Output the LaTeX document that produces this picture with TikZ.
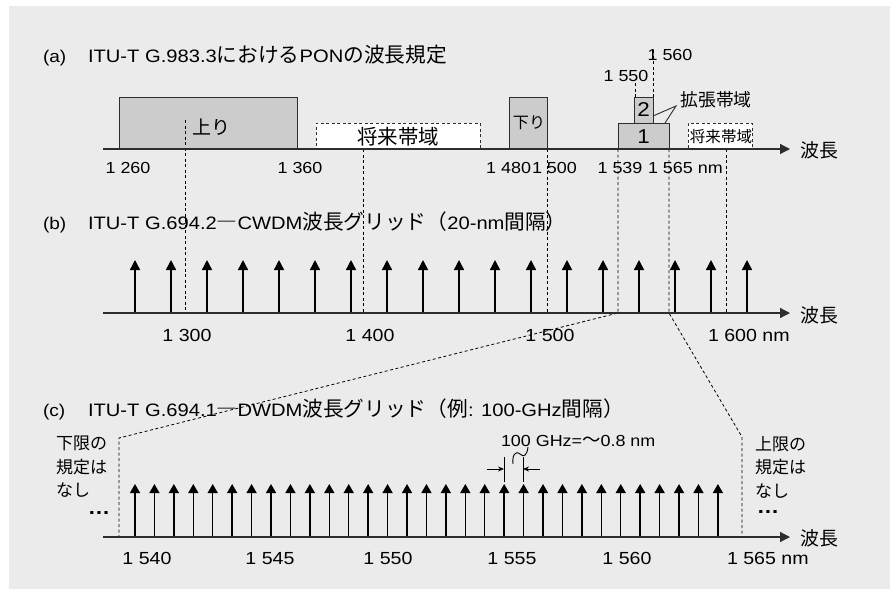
\documentclass[tikz,border=0pt]{standalone}
\usepackage{fontspec}
\setmainfont{Liberation Sans}[FakeStretch=1.12]
\newfontfamily\jp{Noto Sans CJK JP}[Scale=1.15]
\usetikzlibrary{arrows.meta}
\definecolor{bgc}{RGB}{235,235,235}
\definecolor{boxc}{RGB}{204,204,204}
\definecolor{linec}{RGB}{45,45,45}
\begin{document}
\begin{tikzpicture}[x=1pt,y=-1pt,
  every node/.style={inner sep=0pt, outer sep=0pt, text=black, font=\fontsize{16}{20}\selectfont},
  axisline/.style={draw=linec, line width=1.3pt, -{Triangle[length=10pt,width=10pt]}},
  gridarrow/.style={draw=black, line width=1.4pt, -{Triangle[length=10pt,width=10pt]}},
  smallarrow/.style={draw=black, line width=1.4pt, -{Triangle[length=9pt,width=10pt]}},
  band/.style={draw=linec, line width=1pt, fill=boxc},
  future/.style={draw=linec, line width=0.9pt, dash pattern=on 3pt off 2.5pt, fill=white},
  guide/.style={draw=black, line width=0.8pt, dash pattern=on 3pt off 2.5pt},
  numlab/.style={anchor=base, font=\fontsize{16}{20}\selectfont},
  biglab/.style={anchor=base, font=\fontsize{17.5}{20}\selectfont},
  titlelab/.style={anchor=base west, font=\fontsize{18}{20}\selectfont},
  jplab/.style={font=\fontsize{16.5}{20}\selectfont\jp},
  dimarrow/.style={draw=black, line width=0.9pt, -{Stealth[length=6pt,width=5pt]}},
]
\useasboundingbox (0,0) rectangle (890,589);
\fill[bgc] (9,6) rectangle (890,589);

% ---------- (a) ----------
\node[titlelab, font=\fontsize{17}{20}\selectfont] (la) at (43,62) {(a)};
\node[titlelab] (ta) at (88,62) {ITU-T G.983.3{\jp における}PON{\jp の波長規定}};

% guide lines from (a) down to (b)
\coordinate (ga1) at (185,120);  \coordinate (gb1) at (185,313);
\coordinate (ga2) at (363,149);  \coordinate (gb2) at (363,313);
\coordinate (ga3) at (547,149);  \coordinate (gb3) at (547,313);
\coordinate (ga4) at (618,149);  \coordinate (gb4) at (618,313);
\coordinate (ga5) at (669,149);  \coordinate (gb5) at (669,313);
\coordinate (ga6) at (726,149);  \coordinate (gb6) at (726,313);
\coordinate (gc4) at (119,438);  \coordinate (gd4) at (119,537);
\coordinate (gc5) at (742,437);  \coordinate (gd5) at (742,537);

\node[band, minimum width=178pt, minimum height=52pt] (up) at (208,123) {};
\node[future, minimum width=164pt, minimum height=26pt] (fut1) at (398,136) {};
\node[band, minimum width=38pt, minimum height=52pt] (down) at (528,123) {};
\node[band, minimum width=51pt, minimum height=26pt] (ext1) at (643.5,136) {};
\node[band, minimum width=19pt, minimum height=26pt] (ext2) at (643.5,110) {};
\node[future, minimum width=64pt, minimum height=26pt] (fut2) at (720,136) {};

\draw[guide] (ga1) -- (gb1);
\draw[guide] (ga2) -- (gb2);
\draw[guide] (ga3) -- (gb3);
\draw[guide] (ga4) -- (gb4) -- (gc4) -- (gd4);
\draw[guide] (ga5) -- (gb5) -- (gc5) -- (gd5);
\draw[guide] (ga6) -- (gb6);
\coordinate (m1550a) at (635,83); \coordinate (m1550b) at (635,97);
\coordinate (m1560a) at (653,50); \coordinate (m1560b) at (653,97);
\draw[guide] (m1550a) -- (m1550b);
\draw[guide] (m1560a) -- (m1560b);

\node[jplab] at (211,127) {上り};
\node[font=\fontsize{17.8}{20}\selectfont\jp] at (398,137) {将来帯域};
\node[font=\fontsize{14}{16}\selectfont\jp] at (529,123) {下り};
\node[font=\fontsize{20}{24}\selectfont] at (643.5,110) {2};
\node[font=\fontsize{20}{24}\selectfont] at (643.5,137) {1};
\node[font=\fontsize{13.5}{16}\selectfont\jp] at (721,137) {将来帯域};
\node[font=\fontsize{15.5}{18}\selectfont\jp] (extlab) at (716,100) {拡張帯域};
\coordinate (extp) at (676,106);
\coordinate (ext2r) at (653,116);
\coordinate (ext1t) at (665,123);
\draw[linec, line width=0.9pt] (ext2r) -- (extp) -- (ext1t);

\coordinate (axa0) at (103,149); \coordinate (axa1) at (790,149);
\draw[axisline] (axa0) -- (axa1);
\node[jplab] at (819,150) {波長};

\node[numlab] at (128,173) {1 260};
\node[numlab] at (300,173) {1 360};
\node[numlab, anchor=base east] at (531,173) {1 480};
\node[numlab, anchor=base west] at (532,173) {1 500};
\node[numlab] at (620,173) {1 539};
\node[numlab, anchor=base west] at (648,173) {1 565 nm};
\node[numlab] at (626,81) {1 550};
\node[numlab] at (670,60) {1 560};

% ---------- (b) ----------
\node[titlelab, font=\fontsize{17}{20}\selectfont] (lb) at (43,229) {(b)};
\node[titlelab] (tb) at (88,229) {ITU-T G.694.2{\jp ―}CWDM{\jp 波長グリッド（}20-nm{\jp 間隔）}};
\foreach \i in {0,...,17} {
  \draw[gridarrow] (135+36*\i,313) -- (135+36*\i,260);
}
\coordinate (axb0) at (103,313); \coordinate (axb1) at (790,313);
\draw[axisline] (axb0) -- (axb1);
\node[jplab] at (819,315) {波長};
\node[biglab] at (187,341) {1 300};
\node[biglab] at (370,341) {1 400};
\node[biglab] at (550,341) {1 500};
\node[biglab, anchor=base west] at (708,341) {1 600 nm};

% ---------- (c) ----------
\node[titlelab, font=\fontsize{17}{20}\selectfont] (lc) at (43,416) {(c)};
\node[titlelab] (tc) at (88,416) {ITU-T G.694.1{\jp ―}DWDM{\jp 波長グリッド（例}: 100-GHz{\jp 間隔）}};
\foreach \i in {0,...,30} {
  \draw[smallarrow] (135+19.43*\i,537) -- (135+19.43*\i,484);
}
\coordinate (axc0) at (103,537); \coordinate (axc1) at (790,537);
\draw[axisline] (axc0) -- (axc1);
\node[jplab] at (819,538) {波長};

\node[font=\fontsize{14.8}{23.5}\selectfont\jp, align=left, anchor=north west] at (56,436) {下限の\\規定は\\なし};
\node[font=\fontsize{14.8}{23.5}\selectfont\jp, align=left, anchor=north west] at (755,436) {上限の\\規定は\\なし};
\node[font=\fontsize{20}{20}\selectfont\bfseries] at (99,513) {…};
\node[font=\fontsize{20}{20}\selectfont\bfseries] at (768,512) {…};

\node[numlab, anchor=base west] (ghz) at (501,446) {100 GHz={\jp 〜}0.8 nm};
\coordinate (t1a) at (504,457); \coordinate (t1b) at (504,482);
\coordinate (t2a) at (523,457); \coordinate (t2b) at (523,482);
\draw[black, line width=0.9pt] (t1a) -- (t1b);
\draw[black, line width=0.9pt] (t2a) -- (t2b);
\coordinate (d1) at (487,469); \coordinate (d1e) at (504,469);
\coordinate (d2) at (540,469); \coordinate (d2e) at (523,469);
\draw[dimarrow] (d1) -- (d1e);
\draw[dimarrow] (d2) -- (d2e);
\coordinate (sq0) at (513,464); \coordinate (sq1) at (520,454); \coordinate (sq2) at (528,447);
\draw[black, line width=0.9pt] (sq0) .. controls (512,456) and (515,450) .. (sq1) .. controls (524,458) and (527,455) .. (sq2);

\node[biglab] at (147,564) {1 540};
\node[biglab] at (270,564) {1 545};
\node[biglab] at (388,564) {1 550};
\node[biglab] at (512,564) {1 555};
\node[biglab] at (627,564) {1 560};
\node[biglab, anchor=base west] at (727,564) {1 565 nm};
\end{tikzpicture}
\end{document}
